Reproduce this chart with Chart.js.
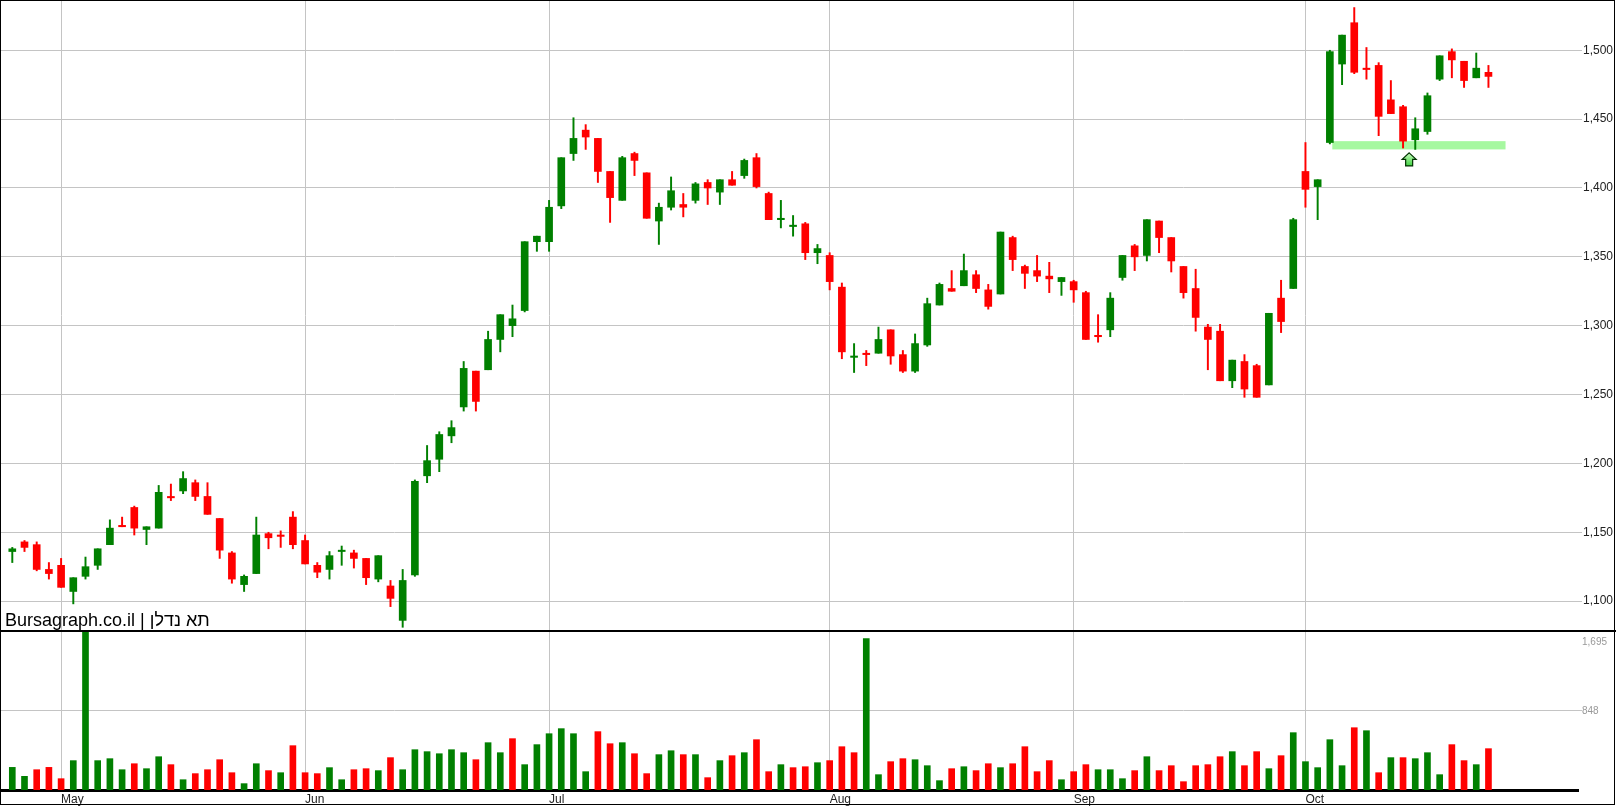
<!DOCTYPE html>
<html><head><meta charset="utf-8">
<script src="https://cdn.jsdelivr.net/npm/chart.js@4/dist/chart.umd.min.js"></script>
<style>
html,body{margin:0;padding:0;background:#fff;}
#wrap{position:relative;width:1616px;height:806px;overflow:hidden;}
#c1{position:absolute;left:0;top:0;}
#c2{position:absolute;left:0;top:631px;}
#sep{position:absolute;left:0;top:630px;width:1616px;height:2px;background:#000;}
#frame{position:absolute;left:0;top:0;width:1615px;height:805px;box-sizing:border-box;border:1px solid #000;pointer-events:none;}
</style></head><body>
<div id="wrap">
<canvas id="c1" width="1616" height="631"></canvas>
<canvas id="c2" width="1616" height="175"></canvas>
<div id="sep"></div><div id="frame"></div>
</div>
<script>
const OPEN=[1136,1143,1141,1123,1126,1107,1118,1126,1141,1155,1168,1152,1153,1176,1180,1186,1176,1160,1135,1112,1120,1149,1148,1161,1144,1126,1123,1136,1135,1131,1116,1111,1086,1119,1191,1203,1220,1241,1267,1268,1290,1300,1311,1361,1361,1387,1425,1442,1436,1412,1391,1425,1411,1376,1386,1388,1391,1404,1397,1406,1409,1422,1396,1377,1372,1374,1353,1351,1328,1277,1280,1280,1297,1279,1267,1286,1315,1327,1329,1337,1326,1323,1364,1343,1340,1336,1332,1332,1324,1293,1297,1335,1358,1351,1376,1364,1343,1327,1299,1296,1260,1274,1271,1257,1320,1327,1412,1401,1433,1490,1520,1487,1489,1464,1459,1435,1441,1479,1499,1492,1480,1484];
const HIGH=[1139,1144,1143,1128,1131,1117,1132,1138,1159,1161,1169,1154,1184,1185,1194,1188,1186,1160,1136,1119,1161,1150,1151,1165,1148,1128,1136,1140,1137,1131,1133,1115,1123,1188,1213,1223,1231,1274,1267,1296,1308,1315,1361,1365,1391,1422,1451,1446,1436,1412,1423,1426,1411,1389,1408,1396,1404,1406,1406,1412,1421,1425,1397,1391,1380,1375,1359,1353,1331,1287,1282,1299,1297,1282,1294,1320,1331,1340,1352,1340,1330,1368,1365,1344,1351,1346,1335,1333,1325,1308,1324,1351,1359,1377,1376,1364,1343,1341,1301,1301,1275,1279,1272,1309,1333,1378,1433,1406,1500,1511,1531,1502,1491,1478,1460,1451,1469,1496,1501,1492,1498,1489];
const LOW=[1128,1136,1122,1116,1110,1098,1116,1123,1141,1154,1148,1141,1153,1173,1178,1173,1163,1131,1113,1107,1120,1138,1139,1138,1127,1117,1116,1126,1124,1112,1114,1096,1081,1118,1186,1194,1215,1238,1238,1268,1281,1292,1310,1354,1354,1385,1420,1428,1404,1375,1391,1409,1378,1359,1384,1379,1389,1388,1388,1402,1407,1400,1377,1371,1365,1348,1345,1326,1276,1266,1271,1280,1272,1266,1266,1285,1315,1325,1329,1324,1312,1323,1340,1327,1332,1324,1322,1317,1290,1288,1292,1333,1340,1347,1353,1339,1320,1296,1268,1260,1255,1248,1248,1257,1295,1327,1386,1377,1432,1475,1483,1479,1438,1454,1429,1428,1439,1478,1480,1473,1480,1473];
const CLOSE=[1138,1139,1123,1120,1110,1117,1125,1138,1153,1154,1153,1154,1179,1175,1189,1176,1163,1137,1116,1118,1148,1146,1147,1141,1127,1121,1133,1137,1131,1117,1133,1102,1115,1187,1202,1221,1226,1269,1245,1290,1308,1305,1361,1365,1386,1422,1436,1437,1412,1393,1422,1420,1378,1386,1398,1386,1403,1400,1406,1402,1420,1401,1377,1378,1373,1353,1356,1332,1281,1278,1279,1290,1278,1267,1287,1316,1330,1325,1340,1327,1314,1368,1348,1338,1336,1334,1335,1326,1290,1292,1320,1351,1350,1377,1364,1347,1324,1306,1290,1260,1275,1254,1248,1309,1303,1377,1399,1406,1499,1511,1484,1486,1452,1454,1434,1443,1467,1496,1493,1478,1487,1481];
const VOLUME=[242,146,217,242,121,314,1692,314,335,217,281,228,356,271,110,175,217,324,185,68,281,207,185,474,185,175,239,110,217,228,207,346,217,431,410,388,431,399,324,506,399,549,271,485,602,656,602,196,624,495,506,388,175,378,420,378,378,132,314,367,399,538,196,271,239,249,292,314,463,399,1618,164,303,335,324,260,100,228,249,207,281,239,281,463,196,314,110,196,271,217,217,121,207,356,207,260,89,260,271,356,410,260,410,228,367,613,303,239,538,260,666,634,185,346,346,335,399,164,485,314,271,442];
const MONTH_IDX=[4,24,44,67,87,106];
const MONTH_LABELS=['May','Jun','Jul','Aug','Sep','Oct'];
const PRICE_TICKS=[1100,1150,1200,1250,1300,1350,1400,1450,1500];
const VOL_TICKS=[848,1695];
const SUPPORT=[1428,1434];
const TITLE='Bursagraph.co.il | תא נדלן';

const GREEN='#008000', RED='#ff0000', GRID='#c4c4c4';
const XMIN=-1.008, XMAX=128.34;
const idx=CLOSE.map((_,i)=>i);
const bodyCol=idx.map(i=>CLOSE[i]>=OPEN[i]?GREEN:RED);
const volCol=idx.map(i=>i===0||CLOSE[i]>CLOSE[i-1]?GREEN:RED);
const FONT='"Liberation Sans", Arial, sans-serif';
const noPad=s=>{s.paddingTop=0;s.paddingBottom=0;s.paddingLeft=0;s.paddingRight=0;};

const overlay={id:'overlay',
 beforeDatasetsDraw(c){const x=c.scales.x,y=c.scales.y,ctx=c.ctx;
  ctx.save();ctx.fillStyle='#a6f8a0';
  const x0=x.getPixelForValue(108.2),x1=x.getPixelForValue(122.4);
  const y0=y.getPixelForValue(SUPPORT[1]),y1=y.getPixelForValue(SUPPORT[0]);
  ctx.fillRect(x0,y0,x1-x0,y1-y0);ctx.restore();},
 afterDatasetsDraw(c){const x=c.scales.x,y=c.scales.y,ctx=c.ctx;
  const cx=x.getPixelForValue(114.5),ty=y.getPixelForValue(1425.5),by=y.getPixelForValue(1416);
  ctx.save();ctx.beginPath();
  ctx.moveTo(cx,ty);ctx.lineTo(cx+7,ty+6.5);ctx.lineTo(cx+3.5,ty+6.5);ctx.lineTo(cx+3.5,by);
  ctx.lineTo(cx-3.5,by);ctx.lineTo(cx-3.5,ty+6.5);ctx.lineTo(cx-7,ty+6.5);ctx.closePath();
  const g=ctx.createLinearGradient(0,ty,0,by);g.addColorStop(0,'#c8ffc0');g.addColorStop(1,'#40d040');
  ctx.fillStyle=g;ctx.fill();ctx.strokeStyle='#003000';ctx.lineWidth=1.2;ctx.stroke();
  ctx.fillStyle='#000';ctx.font='18px '+FONT;ctx.textBaseline='alphabetic';ctx.textAlign='left';
  ctx.direction='ltr';ctx.fillText(TITLE,5,626);ctx.restore();}
};

new Chart(document.getElementById('c1'),{
 type:'bar',
 data:{datasets:[
  {data:idx.map(i=>({x:i,y:[OPEN[i],CLOSE[i]===OPEN[i]?OPEN[i]+0.8:CLOSE[i]]})),backgroundColor:bodyCol,barThickness:7,grouped:false,borderSkipped:false},
  {data:idx.map(i=>({x:i,y:[LOW[i],HIGH[i]]})),backgroundColor:bodyCol,barThickness:1.3,grouped:false,borderSkipped:false}
 ]},
 options:{responsive:false,animation:false,devicePixelRatio:1,layout:{padding:0},
  plugins:{legend:{display:false},tooltip:{enabled:false}},
  scales:{
   x:{type:'linear',offset:false,min:XMIN,max:XMAX,afterBuildTicks:s=>{s.ticks=MONTH_IDX.map(v=>({value:v}));},
      grid:{color:GRID,drawTicks:false,offset:false},border:{display:false},ticks:{display:false},afterFit:s=>{s.height=0;noPad(s);}},
   y:{position:'right',min:1078.3,max:1536.5,afterBuildTicks:s=>{s.ticks=PRICE_TICKS.map(v=>({value:v}));},
      ticks:{callback:v=>v.toLocaleString('en-US'),color:'#222',font:{family:FONT,size:12},padding:1},
      grid:{color:GRID,tickLength:4},border:{display:false},afterFit:s=>{s.width=38;noPad(s);}}
  }},
 plugins:[overlay]
});

const volLabels={id:'volLabels',afterDraw(c){const y=c.scales.y,ctx=c.ctx;
 ctx.save();ctx.fillStyle='#999';ctx.font='10px '+FONT;ctx.textAlign='left';ctx.textBaseline='middle';
 ctx.fillText(VOL_TICKS[1].toLocaleString('en-US'),1582,y.getPixelForValue(VOL_TICKS[1])+11);
 ctx.fillText(VOL_TICKS[0].toLocaleString('en-US'),1582,y.getPixelForValue(VOL_TICKS[0])+1);
 ctx.restore();}};

new Chart(document.getElementById('c2'),{
 type:'bar',
 data:{datasets:[{data:idx.map(i=>({x:i,y:VOLUME[i]})),backgroundColor:volCol,barThickness:6}]},
 options:{responsive:false,animation:false,devicePixelRatio:1,layout:{padding:0},
  plugins:{legend:{display:false},tooltip:{enabled:false}},
  scales:{
   x:{type:'linear',offset:false,min:XMIN,max:XMAX,afterBuildTicks:s=>{s.ticks=MONTH_IDX.map(v=>({value:v}));},
      grid:{color:GRID,drawTicks:false,offset:false},border:{display:true,color:'#000',width:3},
      ticks:{callback:v=>MONTH_LABELS[MONTH_IDX.indexOf(v)],align:'start',padding:2,maxRotation:0,autoSkip:false,color:'#222',font:{family:FONT,size:12}},
      afterFit:s=>{s.height=16;noPad(s);}},
   y:{position:'right',min:0,max:1700,afterBuildTicks:s=>{s.ticks=VOL_TICKS.map(v=>({value:v}));},
      ticks:{display:false},grid:{color:GRID,tickLength:4},border:{display:false},afterFit:s=>{s.width=38;noPad(s);}}
  }},
 plugins:[volLabels]
});
</script></body></html>
